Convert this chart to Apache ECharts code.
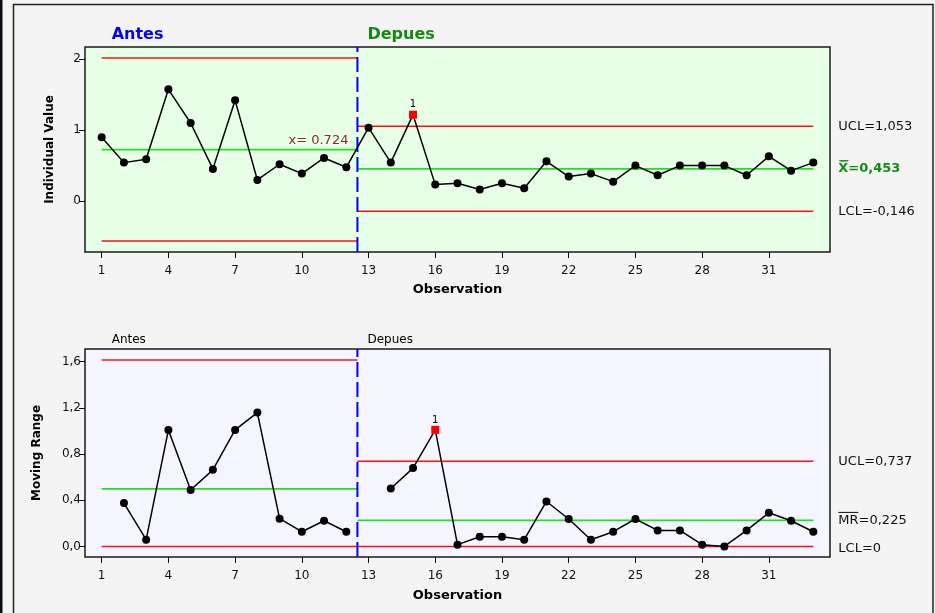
<!DOCTYPE html>
<html>
<head>
<meta charset="utf-8">
<script src="https://cdn.jsdelivr.net/npm/echarts@6/dist/echarts.min.js"></script>
<style>
html,body{margin:0;padding:0;background:#f4f4f4;}
#c{width:935px;height:613px;}
</style>
</head>
<body>
<div id="c"></div>
<script>
// ---- data ----
const observations = [1,2,3,4,5,6,7,8,9,10,11,12,13,14,15,16,17,18,19,20,21,22,23,24,25,26,27,28,29,30,31,32,33];
const individualValues = [0.897,0.540,0.587,1.573,1.099,0.451,1.418,0.296,0.517,0.385,0.606,0.474,
  1.033,0.540,1.216,0.230,0.249,0.160,0.249,0.178,0.559,0.343,0.385,0.272,0.498,0.362,0.498,0.498,0.498,0.362,0.629,0.427,0.540];
const movingRanges = [null,0.375,0.058,1.009,0.488,0.663,1.009,1.159,0.240,0.127,0.222,0.127,
  null,0.502,0.678,1.009,0.015,0.084,0.084,0.058,0.389,0.237,0.058,0.127,0.237,0.138,0.138,0.015,0.0,0.138,0.291,0.222,0.127];
const flaggedIndividual = [15];
const flaggedMR = [16];
// limits: [UCL, center, LCL]
const iAntesLimits = [2.014, 0.724, -0.566];
const iDepuesLimits = [1.053, 0.453, -0.146];
const mrAntesLimits = [1.615, 0.499, 0];
const mrDepuesLimits = [0.737, 0.225, 0];
const antesSpan = [1, 12.5];
const depuesSpan = [12.5, 33];
const phaseSplit = 12.5;
const xTicks = [1,4,7,10,13,16,19,22,25,28,31];
const iTicks = [0,1,2];
const mrTicks = [0,0.4,0.8,1.2,1.6];
const iRightLabels = ['UCL=1,053', 'X=0,453', 'LCL=-0,146'];
const mrRightLabels = ['UCL=0,737', 'MR=0,225', 'LCL=0'];
const antesCenterLabel = 'x= 0.724';

const FONT = 'DejaVu Sans';
const RED = '#ff1010', GREEN = '#22e022';
const iRange = [-0.72, 2.17];
const mrRange = [-0.092, 1.71];

const chart = echarts.init(document.getElementById('c'));

function pts(vals, flagged) {
  return observations.map((o, i) => {
    const v = vals[i];
    if (v === null) return [o, null];
    if (flagged.indexOf(o) >= 0) {
      return {value: [o, v], symbol: 'rect', symbolSize: 8, itemStyle: {color: '#ff0000'},
        label: {show: true, formatter: '1', position: 'top', distance: 1, fontSize: 10, color: '#000', fontFamily: FONT}};
    }
    return [o, v];
  });
}
function seg(gi, span, val, color, w) {
  return {type: 'line', xAxisIndex: gi, yAxisIndex: gi, data: [[span[0], val], [span[1], val]],
    symbol: 'none', lineStyle: {color: color, width: w}, silent: true, z: 2, animation: false};
}
function limitSet(gi, span, lim) {
  return [seg(gi, span, lim[0], RED, 1.5), seg(gi, span, lim[1], GREEN, 1.8), seg(gi, span, lim[2], RED, 1.5)];
}
function xAx(gi, gap) {
  return {type: 'value', gridIndex: gi, min: 0.25, max: 33.75,
    axisLine: {show: false, onZero: false}, splitLine: {show: false},
    axisTick: {show: true, inside: false, customValues: xTicks, length: 6, lineStyle: {color: '#000'}},
    axisLabel: {customValues: xTicks, margin: 13, color: '#111', fontSize: 12, fontFamily: FONT},
    name: 'Observation', nameLocation: 'middle', nameGap: gap,
    nameTextStyle: {fontWeight: 'bold', fontSize: 13, color: '#000', fontFamily: FONT}};
}
function yAx(gi, range, ticks, name, gap, fmt) {
  return {type: 'value', gridIndex: gi, min: range[0], max: range[1],
    axisLine: {show: false, onZero: false}, splitLine: {show: false},
    axisTick: {show: true, inside: false, customValues: ticks, length: 6, lineStyle: {color: '#000'}},
    axisLabel: {customValues: ticks, margin: 4, color: '#111', fontSize: 12, fontFamily: FONT, formatter: fmt},
    name: name, nameLocation: 'middle', nameGap: gap,
    nameTextStyle: {fontWeight: 'bold', fontSize: 12, color: '#000', fontFamily: FONT}};
}

const option = {
  animation: false,
  grid: [
    {left: 85, top: 47, width: 745, height: 205, show: true, backgroundColor: '#e6ffe6', borderColor: '#1a1a1a', borderWidth: 1.5},
    {left: 85, top: 349, width: 745, height: 208, show: true, backgroundColor: '#f5f5ff', borderColor: '#1a1a1a', borderWidth: 1.5}
  ],
  xAxis: [xAx(0, 31), xAx(1, 32)],
  yAxis: [
    yAx(0, iRange, iTicks, 'Individual Value', 29, v => String(v)),
    yAx(1, mrRange, mrTicks, 'Moving Range', 42, v => v.toFixed(1).replace('.', ','))
  ],
  series: [
    ...limitSet(0, antesSpan, iAntesLimits),
    ...limitSet(0, depuesSpan, iDepuesLimits),
    ...limitSet(1, antesSpan, mrAntesLimits),
    ...limitSet(1, depuesSpan, mrDepuesLimits),
    {type: 'line', xAxisIndex: 0, yAxisIndex: 0, data: [[phaseSplit, iRange[0]], [phaseSplit, iRange[1]]],
      symbol: 'none', lineStyle: {color: '#0000ff', width: 2, type: [15, 5]}, z: 3},
    {type: 'line', xAxisIndex: 1, yAxisIndex: 1, data: [[phaseSplit, mrRange[0]], [phaseSplit, mrRange[1]]],
      symbol: 'none', lineStyle: {color: '#0000ff', width: 2, type: [15, 5]}, z: 3},
    {type: 'line', xAxisIndex: 0, yAxisIndex: 0, data: pts(individualValues, flaggedIndividual),
      symbol: 'circle', symbolSize: 8, itemStyle: {color: '#000'}, lineStyle: {color: '#000', width: 1.5}, z: 5},
    {type: 'line', xAxisIndex: 1, yAxisIndex: 1, data: pts(movingRanges, flaggedMR), connectNulls: false,
      symbol: 'circle', symbolSize: 8, itemStyle: {color: '#000'}, lineStyle: {color: '#000', width: 1.5}, z: 5}
  ]
};
chart.setOption(option);

// ---- text annotations placed via the library's scales ----
const g = [];
g.push({type: 'rect', z: -10, silent: true, shape: {x: 13.5, y: 4.5, width: 919.5, height: 640},
  style: {fill: '#f4f4f4', stroke: '#222', lineWidth: 1.5}});
g.push({type: 'rect', z: -10, silent: true, shape: {x: 0, y: 0, width: 2.5, height: 613}, style: {fill: '#0a0a14'}});

function txt(x, y, text, st) {
  g.push({type: 'text', x: x, y: y, silent: true, z: 10,
    style: Object.assign({text: text, fontFamily: FONT, fontSize: 12, fill: '#111', verticalAlign: 'middle', align: 'left'}, st || {})});
}
function overline(x, y, w, color, lw) {
  g.push({type: 'line', silent: true, z: 10, shape: {x1: x, y1: y, x2: x + w, y2: y},
    style: {stroke: color, lineWidth: lw}});
}
const endX0 = chart.convertToPixel({xAxisIndex: 0}, depuesSpan[1]) + 25;
iDepuesLimits.forEach((v, i) => {
  const y = chart.convertToPixel({yAxisIndex: 0}, v);
  if (i === 1) {
    txt(endX0, y, iRightLabels[i], {fontWeight: 'bold', fontSize: 13, fill: '#148c14'});
    overline(endX0 + 1, y - 8, 9, '#148c14', 1.5);
  } else txt(endX0, y, iRightLabels[i], {fontSize: 13});
});
mrDepuesLimits.forEach((v, i) => {
  let y = chart.convertToPixel({yAxisIndex: 1}, v);
  if (i === 2) y += 2;
  txt(endX0, y, mrRightLabels[i], {fontSize: 13});
  if (i === 1) overline(endX0, y - 8, 20, '#111', 1);
});
// Antes center label
const axc = chart.convertToPixel({xAxisIndex: 0}, antesSpan[1]);
const ayc = chart.convertToPixel({yAxisIndex: 0}, iAntesLimits[1]);
txt(axc - 9, ayc - 9, antesCenterLabel, {align: 'right', fill: '#862a38', fontSize: 13});
// phase titles
const xAntes = chart.convertToPixel({xAxisIndex: 0}, 1) + 10;
const xDep = chart.convertToPixel({xAxisIndex: 0}, phaseSplit) + 10;
txt(xAntes, 35, 'Antes', {fontWeight: 'bold', fontSize: 16, fill: '#0000ff'});
txt(xDep, 35, 'Depues', {fontWeight: 'bold', fontSize: 16, fill: '#108a10'});
txt(xAntes, 340, 'Antes', {fill: '#000'});
txt(xDep, 340, 'Depues', {fill: '#000'});
chart.setOption({graphic: g});
</script>
</body>
</html>
